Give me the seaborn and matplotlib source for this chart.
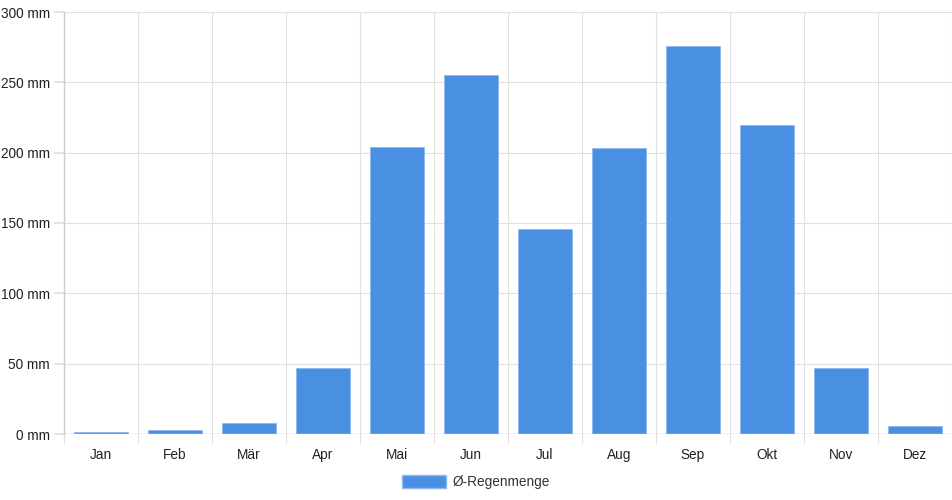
import matplotlib
matplotlib.use("Agg")
import matplotlib.pyplot as plt
from matplotlib.patches import Patch
import seaborn as sns
import pandas as pd

months = ["Jan", "Feb", "Mär", "Apr", "Mai", "Jun", "Jul", "Aug", "Sep", "Okt", "Nov", "Dez"]
rain_mm = [1.5, 2.5, 8, 47, 204, 255, 146, 203, 276, 220, 47, 6]
y_ticks = [0, 50, 100, 150, 200, 250, 300]

df = pd.DataFrame({"Monat": months, "Regen": rain_mm})

sns.set_theme(style="white")
plt.rcParams["font.family"] = ["Liberation Sans", "DejaVu Sans"]

fig = plt.figure(figsize=(9.52, 5.0), dpi=100)
ax = fig.add_axes([64 / 952, 66 / 500, 888 / 952, 422 / 500])

sns.barplot(data=df, x="Monat", y="Regen", color="#4a90e2", saturation=1,
            width=0.72, edgecolor="#8fb8ec", linewidth=0.6, ax=ax, zorder=3)

ax.set_ylim(0, 300)
ax.set_xlim(-0.5, len(months) - 0.5)
ax.set_yticks(y_ticks)
ax.set_yticklabels([f"{v} mm" for v in y_ticks])
ax.set_xlabel("")
ax.set_ylabel("")

# horizontal grid
for v in y_ticks:
    ax.axhline(v, color="#e0e0e0", linewidth=0.8, zorder=0)
# vertical grid at category boundaries, extending below the axis
for i in range(len(months) + 1):
    ax.plot([i - 0.5, i - 0.5], [-6.5, 300], color="#e0e0e0", linewidth=0.8,
            zorder=0, clip_on=False)
ax.axhline(0, color="#cccccc", linewidth=1, zorder=4)

for s in ["top", "right", "bottom"]:
    ax.spines[s].set_visible(False)
ax.spines["left"].set_color("#cccccc")
ax.spines["left"].set_linewidth(1)

ax.tick_params(axis="y", length=7, color="#e0e0e0", labelsize=9.8,
               labelcolor="#222222", pad=3, left=True)
ax.tick_params(axis="x", length=0, labelsize=9.8, labelcolor="#222222", pad=10)

handle = Patch(facecolor="#4a90e2", edgecolor="#8fb8ec", label="Ø-Regenmenge")
fig.legend(handles=[handle], loc="center", bbox_to_anchor=(0.5, 18 / 500),
           frameon=False, fontsize=9.8, handlelength=3.2, handleheight=1.15,
           handletextpad=0.5, labelcolor="#333333")

fig.savefig("out.png", dpi=100)
